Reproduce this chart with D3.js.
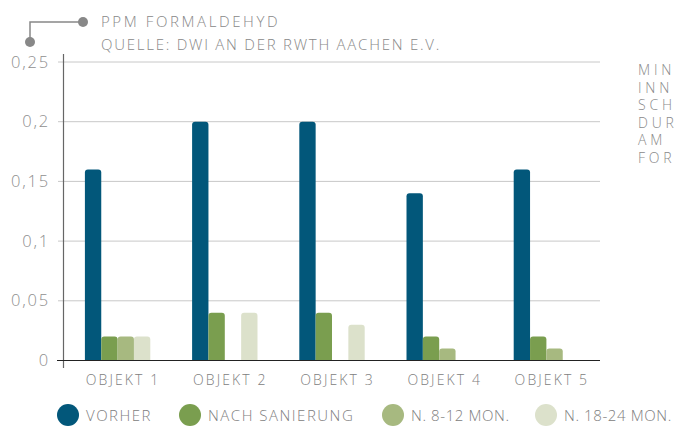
<!DOCTYPE html>
<html>
<head>
<meta charset="utf-8">
<script src="https://cdn.jsdelivr.net/npm/d3@7"></script>
<style>
  body { margin: 0; background: #fff; overflow: hidden; }
  svg { font-family: "Open Sans", Lato, sans-serif; font-weight: 300; }
</style>
</head>
<body>
<div id="chart"></div>
<script>
// data
var categories = ["OBJEKT 1", "OBJEKT 2", "OBJEKT 3", "OBJEKT 4", "OBJEKT 5"];
var seriesNames = ["VORHER", "NACH SANIERUNG", "N. 8-12 MON.", "N. 18-24 MON."];
var vorher      = [0.16, 0.20, 0.20, 0.14, 0.16];
var nachSan     = [0.02, 0.04, 0.04, 0.02, 0.02];
var n8_12       = [0.02, null, null, 0.01, 0.01];
var n18_24      = [0.02, 0.04, 0.03, null, null];
var yTicks      = [0, 0.05, 0.1, 0.15, 0.2, 0.25];
var yTickLabels = ["0", "0,05", "0,1", "0,15", "0,2", "0,25"];
// side note, only the part visible at the page edge
var sideText    = ["MIN", "INN", "SCH", "DUR", "AM", "FOR"];

var colors = ["#02577a", "#7a9e4f", "#a7b980", "#dce1cb"];
var allSeries = [vorher, nachSan, n8_12, n18_24];

// dimensions
var svgWidth = 677, svgHeight = 426;

var svg = d3.select("#chart").append("svg")
    .attr("width", svgWidth)
    .attr("height", svgHeight);

// scales
var x0 = d3.scaleBand().domain(categories).range([64, 600])
    .paddingInner(0.39).paddingOuter(0.195);
var x1 = d3.scaleBand().domain(d3.range(seriesNames.length))
    .range([0, x0.bandwidth()]).padding(0);
var y = d3.scaleLinear().domain([0, 0.25]).range([360.5, 62]);

// gridlines
svg.append("g").selectAll("line")
    .data(yTicks.slice(1))
    .enter().append("line")
        .attr("x1", 58).attr("x2", 600)
        .attr("y1", function(d) { return y(d); })
        .attr("y2", function(d) { return y(d); })
        .attr("stroke", "#c8c8c8")
        .attr("stroke-width", 1);

// y tick labels
svg.append("g").selectAll("text")
    .data(yTicks)
    .enter().append("text")
        .attr("x", 50)
        .attr("y", function(d) { return y(d) + 5.5; })
        .attr("text-anchor", "end")
        .attr("fill", "#8f8f8f")
        .attr("font-size", 16.5)
        .attr("letter-spacing", 1.8)
        .text(function(d, i) { return yTickLabels[i]; });

// bars
var rows = categories.map(function(c, i) {
    return allSeries.map(function(s, j) { return { cat: c, k: j, v: s[i] }; });
});

function barPath(x, w, y0, y1, r) {
    var h = y0 - y1;
    r = Math.min(r, h, w / 2);
    return "M" + x + "," + y0 + "V" + (y1 + r) +
        "Q" + x + "," + y1 + " " + (x + r) + "," + y1 +
        "H" + (x + w - r) +
        "Q" + (x + w) + "," + y1 + " " + (x + w) + "," + (y1 + r) +
        "V" + y0 + "Z";
}

svg.append("g").selectAll("g")
    .data(rows)
    .enter().append("g")
        .attr("transform", function(d, i) { return "translate(" + x0(categories[i]) + ",0)"; })
    .selectAll("path")
    .data(function(d) { return d.filter(function(e) { return e.v != null; }); })
    .enter().append("path")
        .attr("d", function(d) {
            return barPath(x1(d.k), x1.bandwidth(), y(0), y(d.v), 3);
        })
        .attr("fill", function(d) { return colors[d.k]; });

// axes lines
svg.append("line")
    .attr("x1", 63.5).attr("x2", 63.5).attr("y1", 54).attr("y2", 368)
    .attr("stroke", "#666").attr("stroke-width", 1.2);
svg.append("line")
    .attr("x1", 57).attr("x2", 600).attr("y1", 360.5).attr("y2", 360.5)
    .attr("stroke", "#222").attr("stroke-width", 1.2);

// x labels
svg.append("g").selectAll("text")
    .data(categories)
    .enter().append("text")
        .attr("x", function(d) { return x0(d) + x0.bandwidth() / 2 + 5.5; })
        .attr("y", 385)
        .attr("text-anchor", "middle")
        .attr("fill", "#808080")
        .attr("font-size", 14)
        .attr("letter-spacing", 2.1)
        .text(function(d) { return d; });

// header
svg.append("path")
    .attr("d", "M30,42V22H83")
    .attr("fill", "none").attr("stroke", "#888").attr("stroke-width", 1.5);
svg.append("circle").attr("cx", 30).attr("cy", 42).attr("r", 5).attr("fill", "#888");
svg.append("circle").attr("cx", 83).attr("cy", 22).attr("r", 5).attr("fill", "#888");
svg.append("text").attr("x", 101).attr("y", 27)
    .attr("fill", "#888").attr("font-size", 15).attr("letter-spacing", 2.6)
    .text("PPM FORMALDEHYD");
svg.append("text").attr("x", 101).attr("y", 50)
    .attr("fill", "#888").attr("font-size", 15).attr("letter-spacing", 1.75)
    .text("QUELLE: DWI AN DER RWTH AACHEN E.V.");

// side text (cut off by the page edge)
svg.append("g").selectAll("text")
    .data(sideText)
    .enter().append("text")
        .attr("x", 638)
        .attr("y", function(d, i) { return 75 + i * 17.6; })
        .attr("fill", "#8a8a8a")
        .attr("font-size", 14)
        .attr("letter-spacing", 3.8)
        .text(function(d) { return d; });

// legend
var legendX = [68, 190, 393, 546];
var legend = svg.append("g").selectAll("g")
    .data(seriesNames)
    .enter().append("g")
        .attr("transform", function(d, i) { return "translate(" + legendX[i] + ",415)"; });
legend.append("circle")
    .attr("r", 11)
    .attr("fill", function(d, i) { return colors[i]; });
legend.append("text")
    .attr("x", 18)
    .attr("y", 6)
    .attr("fill", "#808080")
    .attr("font-size", 15)
    .attr("letter-spacing", function(d, i) { return i < 2 ? 1.5 : 0.6; })
    .text(function(d) { return d; });
</script>
</body>
</html>
